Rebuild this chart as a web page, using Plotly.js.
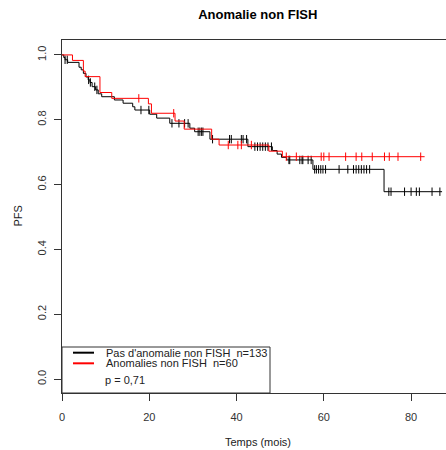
<!DOCTYPE html>
<html>
<head>
<meta charset="utf-8">
<script src="https://cdn.plot.ly/plotly-3.0.1.min.js"></script>
<style>html,body{margin:0;padding:0;background:#fff;overflow:hidden}#chart{width:446px;height:450px}</style>
</head>
<body>
<div id="chart"></div>
<script>
// Kaplan-Meier step data
const blackTimes = [0, 0.4, 0.7, 1.3, 3.9, 4.4, 4.9, 5.5, 6.0, 6.4, 6.9, 7.7, 8.3, 9.1, 12.0, 14.0, 16.2, 16.7, 20.1, 21.7, 24.7, 29.3, 30.4, 33.9, 42.6, 48.2, 49.3, 50.3, 51.5, 57.5, 73.8, 87.1];
const blackSurv  = [1.0, 0.992, 0.985, 0.977, 0.962, 0.954, 0.943, 0.932, 0.923, 0.915, 0.902, 0.892, 0.880, 0.871, 0.861, 0.851, 0.840, 0.830, 0.817, 0.805, 0.789, 0.774, 0.763, 0.740, 0.717, 0.705, 0.694, 0.684, 0.676, 0.647, 0.578, 0.578];
const blackCensor = [0.7, 1.2, 6.1, 6.5, 7.5, 8.0, 18.1, 19.9, 25.2, 26.8, 28.1, 28.9, 31.2, 31.6, 32.0, 32.3, 34.5, 38.4, 38.8, 41.1, 41.5, 42.3, 44.2, 44.8, 45.4, 46.0, 46.6, 47.2, 48.0, 52.0, 52.2, 54.5, 55.0, 55.2, 56.4, 57.1, 57.9, 58.3, 58.8, 59.3, 59.8, 60.4, 63.5, 65.5, 66.8, 67.4, 68.0, 68.6, 69.2, 69.8, 70.5, 74.9, 75.4, 78.5, 80.0, 81.2, 81.9, 84.8, 86.6];

const redTimes = [0, 2.4, 4.9, 5.3, 8.7, 11.4, 19.8, 20.5, 25.9, 28.0, 34.3, 36.0, 47.4, 50.5, 83.1];
const redSurv  = [1.0, 0.983, 0.950, 0.933, 0.884, 0.866, 0.849, 0.820, 0.796, 0.771, 0.740, 0.722, 0.703, 0.686, 0.686];
const redCensor = [17.6, 25.6, 38.1, 40.3, 41.1, 43.4, 51.4, 53.7, 59.4, 60.0, 61.2, 65.0, 67.4, 68.7, 71.1, 73.9, 75.0, 77.0, 82.2];

const xTicks = [0, 20, 40, 60, 80];
const yTicks = [0.0, 0.2, 0.4, 0.6, 0.8, 1.0];
const yTickText = ['0.0', '0.2', '0.4', '0.6', '0.8', '1.0'];

const chartTitle = 'Anomalie non FISH';
const xTitle = 'Temps (mois)';
const yTitle = 'PFS';
const legendLabels = ["Pas d'anomalie non FISH\u00a0\u00a0n=133", 'Anomalies non FISH\u00a0\u00a0n=60'];
const pText = 'p = 0,71';

function survAt(times, surv, t) {
  let s = surv[0];
  for (let i = 0; i < times.length; i++) { if (times[i] <= t) s = surv[i]; }
  return s;
}

const FONT = 'Arial, "Liberation Sans", sans-serif';
const BLACK = '#000000', RED = '#ff0000';

const traces = [
  {x: blackTimes, y: blackSurv, mode: 'lines', line: {shape: 'hv', color: BLACK, width: 1}, hoverinfo: 'skip'},
  {x: blackCensor, y: blackCensor.map(t => survAt(blackTimes, blackSurv, t)), mode: 'markers',
   marker: {symbol: 'line-ns-open', size: 6, color: BLACK, line: {color: BLACK, width: 1}}, hoverinfo: 'skip'},
  {x: redTimes, y: redSurv, mode: 'lines', line: {shape: 'hv', color: RED, width: 1}, hoverinfo: 'skip'},
  {x: redCensor, y: redCensor.map(t => survAt(redTimes, redSurv, t)), mode: 'markers',
   marker: {symbol: 'line-ns-open', size: 6, color: RED, line: {color: RED, width: 1}}, hoverinfo: 'skip'}
];

const layout = {
  width: 446, height: 450,
  margin: {l: 62, r: 0, t: 40, b: 57, pad: 0},
  paper_bgcolor: '#fff', plot_bgcolor: '#fff',
  showlegend: false,
  font: {family: FONT, size: 11, color: '#222'},
  title: {text: '<b>' + chartTitle + '</b>', font: {family: FONT, size: 13, color: '#000'},
          x: 0.578, xref: 'container', xanchor: 'center', y: 0.967, yref: 'container', yanchor: 'middle'},
  xaxis: {range: [0, 88], tickvals: xTicks, ticktext: xTicks.map(String), ticks: 'outside', ticklen: 7,
          tickcolor: '#333', showline: true, linecolor: '#333', linewidth: 1, mirror: true, ticklabelstandoff: 7,
          showgrid: false, zeroline: false, tickfont: {size: 11, color: '#333'}, fixedrange: true},
  yaxis: {range: [-0.043, 1.046], tickvals: yTicks, ticktext: yTickText, ticks: 'outside', ticklen: 7,
          tickcolor: '#333', tickangle: -90, showline: true, linecolor: '#333', linewidth: 1, mirror: true, ticklabelstandoff: 4,
          showgrid: false, zeroline: false, tickfont: {size: 11, color: '#333'}, fixedrange: true},
  shapes: [
    {type: 'rect', xref: 'paper', yref: 'paper', x0: 0, x1: 0.5417, y0: 0, y1: 0.1303,
     line: {color: '#333', width: 1}, fillcolor: 'rgba(255,255,255,0)'},
    {type: 'line', xref: 'paper', yref: 'paper', x0: 0.0286, x1: 0.0833, y0: 0.1142, y1: 0.1142, line: {color: BLACK, width: 2}},
    {type: 'line', xref: 'paper', yref: 'paper', x0: 0.0286, x1: 0.0833, y0: 0.0841, y1: 0.0841, line: {color: RED, width: 2}}
  ],
  annotations: [
    {text: legendLabels[0], xref: 'paper', yref: 'paper', x: 0.1094, y: 0.1147, xanchor: 'left', yanchor: 'middle', showarrow: false, font: {size: 11, color: '#222'}},
    {text: legendLabels[1], xref: 'paper', yref: 'paper', x: 0.1094, y: 0.0845, xanchor: 'left', yanchor: 'middle', showarrow: false, font: {size: 11, color: '#222'}},
    {text: pText, xref: 'paper', yref: 'paper', x: 0.106, y: 0.0368, xanchor: 'left', yanchor: 'middle', showarrow: false, font: {size: 11, color: '#222'}},
    {text: xTitle, xref: 'paper', yref: 'paper', x: 0.51, y: -0.139, xanchor: 'center', yanchor: 'middle', showarrow: false, font: {size: 11, color: '#222'}},
    {text: yTitle, xref: 'paper', yref: 'paper', x: -0.117, y: 0.5, xanchor: 'center', yanchor: 'middle', textangle: -90, showarrow: false, font: {size: 11, color: '#222'}}
  ]
};

Plotly.newPlot('chart', traces, layout, {displayModeBar: false, staticPlot: true});
</script>
</body>
</html>
